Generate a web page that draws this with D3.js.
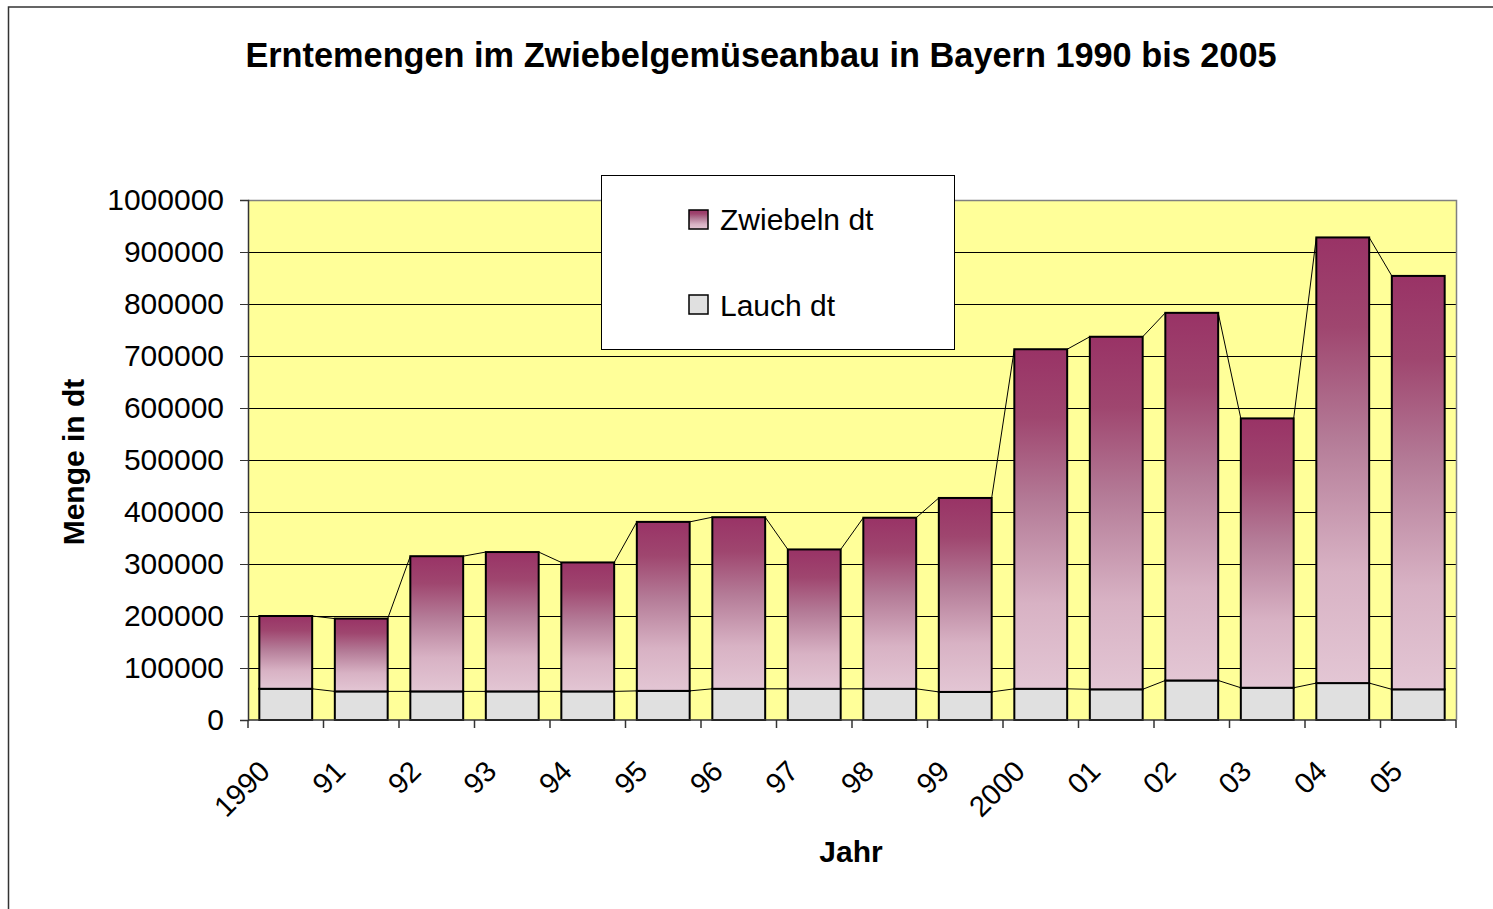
<!DOCTYPE html>
<html>
<head>
<meta charset="utf-8">
<script src="https://cdn.jsdelivr.net/npm/d3@7"></script>
<style>
  html, body { margin: 0; padding: 0; background: #fff; }
  svg { display: block; font-family: "Liberation Sans", Arial, sans-serif; }
</style>
</head>
<body>
<svg id="chart" width="1493" height="909"></svg>
<script>
// ---- data ----
const years = ["1990","91","92","93","94","95","96","97","98","99","2000","01","02","03","04","05"];
const lauch = [60000, 55000, 55000, 55000, 55000, 56000, 60000, 60000, 60000, 54000, 60000, 59000, 76000, 62000, 71000, 59000];
const zwiebeln = [140000, 140000, 260000, 268000, 248000, 325000, 330000, 268000, 329000, 373000, 653000, 678000, 707000, 518000, 857000, 795000];
const seriesNames = ["Lauch dt", "Zwiebeln dt"];
const yTicks = [0,100000,200000,300000,400000,500000,600000,700000,800000,900000,1000000];
const titleText = "Erntemengen im Zwiebelgemüseanbau in Bayern 1990 bis 2005";
const xTitle = "Jahr";
const yTitle = "Menge in dt";

const rows = years.map((y, i) => ({ year: y, lauch: lauch[i], zwiebeln: zwiebeln[i] }));

const svg = d3.select("#chart");
const plot = { left: 248, right: 1456, top: 200, bottom: 720 };

// gradient
const defs = svg.append("defs");
const grad = defs.append("linearGradient").attr("id", "zwGrad")
  .attr("x1", 0).attr("y1", 0).attr("x2", 0).attr("y2", 1);
[[0, "#993366"], [0.2, "#9f466f"], [0.45, "#b47b97"], [0.75, "#d8b2c4"], [1, "#e3c6d4"]]
  .forEach(([o, c]) => grad.append("stop").attr("offset", o).attr("stop-color", c));

// outer border
svg.append("rect").attr("x", 8.5).attr("y", 7).attr("width", 1600).attr("height", 1000)
  .attr("fill", "none").attr("stroke", "#333").attr("stroke-width", 1.5);

// title
svg.append("text").attr("x", 761).attr("y", 67).attr("text-anchor", "middle")
  .attr("font-weight", "bold").attr("font-size", 34.3).attr("fill", "#000").text(titleText);

const x = d3.scaleBand().domain(years).range([plot.left, plot.right]).paddingInner(0.3).paddingOuter(0.15);
const y = d3.scaleLinear().domain([0, 1000000]).range([plot.bottom, plot.top]);

// plot background
svg.append("rect").attr("x", plot.left).attr("y", plot.top)
  .attr("width", plot.right - plot.left).attr("height", plot.bottom - plot.top)
  .attr("fill", "#FFFF99");

// gridlines
svg.append("g").selectAll("line").data(yTicks.filter(d => d > 0 && d < 1000000)).join("line")
  .attr("x1", plot.left).attr("x2", plot.right)
  .attr("y1", d => y(d) + 0.5).attr("y2", d => y(d) + 0.5)
  .attr("stroke", "#000").attr("stroke-width", 1);

// top & right border of plot (gray)
svg.append("path")
  .attr("d", `M${plot.left},${plot.top + 0.5}H${plot.right + 0.5}V${plot.bottom}`)
  .attr("fill", "none").attr("stroke", "#808080").attr("stroke-width", 1.5);

// stacks
const stack = d3.stack().keys(["lauch", "zwiebeln"]);
const stacked = stack(rows);
const fills = { lauch: "#E0E0E0", zwiebeln: "url(#zwGrad)" };

// series lines
stacked.forEach(s => {
  const segs = [];
  for (let i = 0; i < s.length - 1; i++) {
    segs.push([[x(years[i]) + x.bandwidth(), y(s[i][1])], [x(years[i + 1]), y(s[i + 1][1])]]);
  }
  svg.append("g").selectAll("line").data(segs).join("line")
    .attr("x1", d => d[0][0]).attr("y1", d => d[0][1])
    .attr("x2", d => d[1][0]).attr("y2", d => d[1][1])
    .attr("stroke", "#000").attr("stroke-width", 1);
});

stacked.forEach(s => {
  svg.append("g").selectAll("rect").data(s).join("rect")
    .attr("x", d => x(d.data.year))
    .attr("y", d => y(d[1]))
    .attr("width", x.bandwidth())
    .attr("height", d => y(d[0]) - y(d[1]))
    .attr("fill", fills[s.key])
    .attr("stroke", "#000").attr("stroke-width", 2);
});

// y axis
const yAxis = d3.axisLeft(y).tickValues(yTicks).tickFormat(d3.format("d")).tickSize(8).tickPadding(16);
const yg = svg.append("g").attr("transform", `translate(${plot.left},0)`).call(yAxis);
yg.select(".domain").attr("stroke", "#333").attr("stroke-width", 1.5);
yg.selectAll(".tick line").attr("stroke", "#333");
yg.selectAll(".tick text").attr("font-size", 30).attr("fill", "#000")
  .attr("font-family", "Liberation Sans, Arial, sans-serif");

// x axis (ticks at category boundaries)
const boundaries = years.map(yv => x(yv) - x.step() * x.paddingInner() / 2);
boundaries.push(plot.right);
const xg = svg.append("g");
xg.append("line").attr("x1", plot.left).attr("x2", plot.right)
  .attr("y1", plot.bottom).attr("y2", plot.bottom).attr("stroke", "#333").attr("stroke-width", 1.5);
xg.selectAll("line.tk").data([plot.left].concat(boundaries.slice(1))).join("line").attr("class", "tk")
  .attr("x1", d => d).attr("x2", d => d)
  .attr("y1", plot.bottom).attr("y2", plot.bottom + 8).attr("stroke", "#333").attr("stroke-width", 1.5);
xg.selectAll("text").data(years).join("text")
  .attr("transform", d => `translate(${x(d) + x.bandwidth() / 2 - 14},773) rotate(-45)`)
  .attr("text-anchor", "end").attr("font-size", 29).attr("fill", "#000").text(d => d);

// axis titles
svg.append("text").attr("x", 851).attr("y", 862).attr("text-anchor", "middle")
  .attr("font-weight", "bold").attr("font-size", 30).text(xTitle);
svg.append("text").attr("transform", "translate(84,462) rotate(-90)").attr("text-anchor", "middle")
  .attr("font-weight", "bold").attr("font-size", 30).text(yTitle);

// legend
const lg = svg.append("g");
lg.append("rect").attr("x", 601.5).attr("y", 175.5).attr("width", 353).attr("height", 174)
  .attr("fill", "#fff").attr("stroke", "#000").attr("stroke-width", 1);
const legendItems = [
  { name: seriesNames[1], fill: fills.zwiebeln, y: 210, ty: 230 },
  { name: seriesNames[0], fill: fills.lauch, y: 295, ty: 316 }
];
legendItems.forEach(it => {
  lg.append("rect").attr("x", 689).attr("y", it.y).attr("width", 19).attr("height", 19)
    .attr("fill", it.fill).attr("stroke", "#000").attr("stroke-width", 1.5);
  lg.append("text").attr("x", 720).attr("y", it.ty).attr("font-size", 30).attr("fill", "#000").text(it.name);
});
</script>
</body>
</html>
